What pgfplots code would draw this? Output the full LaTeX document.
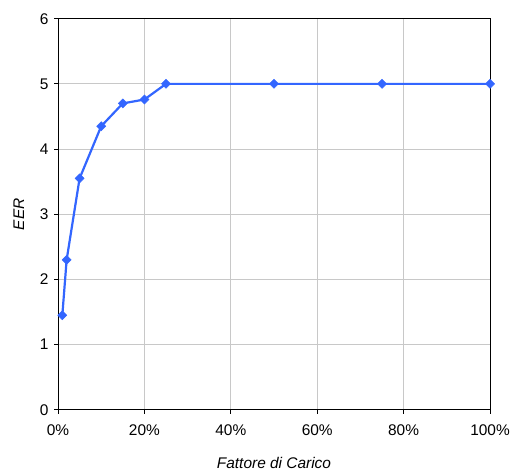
\documentclass[border=0pt]{standalone}
\usepackage{pgfplots}
\pgfplotsset{compat=1.18}
\usepackage{fontspec}
\setmainfont{Liberation Sans}
\definecolor{linecol}{HTML}{3366FF}
\definecolor{gridcol}{HTML}{C8C8C8}
\begin{document}
\fontsize{16}{19}\selectfont
\begin{tikzpicture}[x=1bp,y=1bp]
\useasboundingbox (0,0) rectangle (513,471);
\begin{axis}[
  at={(58bp,61.3bp)}, anchor=south west,
  scale only axis, width=432bp, height=391bp,
  xmin=0, xmax=100, ymin=0, ymax=6,
  xtick={0,20,40,60,80,100},
  xticklabels={0\%,20\%,40\%,60\%,80\%,100\%},
  ytick={0,1,2,3,4,5,6},
  tick align=outside, tick pos=left,
  major tick length=4bp,
  grid=major, grid style={gridcol, line width=1pt},
  axis line style={black, line width=1pt},
  tick style={black, line width=1pt},
  /pgf/number format/assume math mode=true,
  ticklabel style={font=\fontsize{15.5}{18}\selectfont},
  xticklabel style={yshift=-6bp},
  xlabel={\itshape Fattore di Carico},
  ylabel={\itshape EER},
  label style={font=\fontsize{15.5}{18}\selectfont\itshape},
  xlabel style={yshift=-10bp},
  ylabel style={yshift=5bp},
]
\addplot[color=linecol, line width=2.2bp, mark=square*, mark size=3.2bp, mark options={rotate=45, fill=linecol, draw=linecol, line width=0.5bp}]
  coordinates {(1,1.45) (2,2.3) (5,3.55) (10,4.35) (15,4.7) (20,4.76) (25,5) (50,5) (75,5) (100,5)};
\end{axis}
\end{tikzpicture}
\end{document}
